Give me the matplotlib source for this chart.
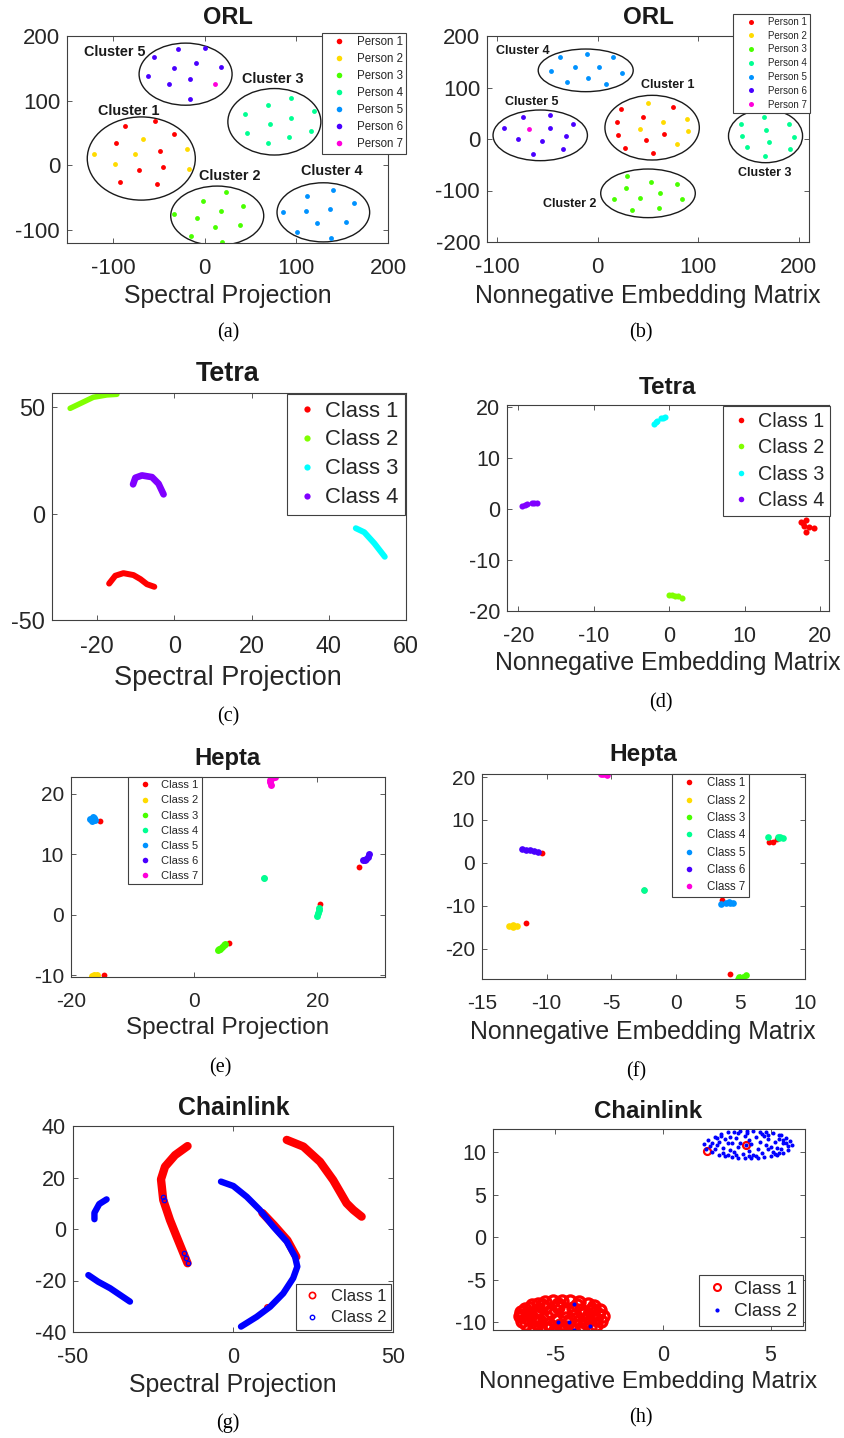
import matplotlib.pyplot as plt
from matplotlib.patches import Ellipse
from matplotlib.lines import Line2D

plt.rcParams['font.family'] = ['Liberation Sans', 'DejaVu Sans']
plt.rcParams['axes.unicode_minus'] = False

W, H = 845, 1438
fig = plt.figure(figsize=(W / 100, H / 100), dpi=100)

# colours (MATLAB hsv(7) and hsv(4))
hsv7 = ['#ff0000', '#ffdb00', '#49ff00', '#00ff92', '#0092ff', '#4900ff', '#ff00db']
hsv4 = ['#ff0000', '#80ff00', '#00ffff', '#8000ff']

# ---------------- (a) ORL, spectral projection ----------------
a_person1 = [(-87.0, 61.5), (-53.6, 68.7), (-33.0, 49.1), (-96.7, 34.6), (-48.6, 22.2),
             (-71.7, -6.7), (-45.3, -2.6), (-92.4, -26.4), (-52.2, -29.5)]
a_person2 = [(-66.7, 41.3), (-120.7, 17.5), (-75.7, 18.1), (-19.2, 24.8), (-97.8, 2.1), (-17.4, -5.1)]
a_person3 = [(23.2, -41.3), (-1.8, -54.8), (41.7, -62.5), (-33.0, -74.9), (18.1, -70.8),
             (-8.7, -80.6), (39.1, -92.5), (11.2, -95.1), (-14.9, -108.5), (19.2, -118.9)]
a_person4 = [(44.6, 79.1), (69.2, 93.0), (94.6, 103.9), (119.2, 84.2), (71.0, 63.6),
             (93.8, 74.0), (46.7, 50.1), (68.8, 35.2), (91.7, 43.9), (116.3, 53.2)]
a_person5 = [(111.2, -47.0), (139.5, -38.8), (163.4, -57.9), (85.9, -72.4), (110.9, -69.8),
             (137.3, -66.7), (122.5, -88.4), (154.7, -87.9), (100.8, -102.8), (137.7, -111.6)]
a_person6 = [(-55.1, 167.4), (-29.0, 180.3), (0.4, 181.9), (-62.0, 138.5), (-33.3, 150.4),
             (-9.1, 157.6), (18.1, 152.5), (-39.1, 125.6), (-15.6, 133.3), (-16.3, 102.8)]
a_person7 = [(10.9, 125.6)]
# cluster ellipses: centre x, centre y, half width, half height
a_ellipses = [(-69.0, 10.6, 58.9, 64.3), (13.8, -78.0, 50.7, 46.0), (76.1, 67.4, 50.7, 51.4),
              (129.5, -72.6, 50.5, 45.7), (-20.7, 141.0, 50.7, 48.0)]
a_cluster_text = [('Cluster 1', -82.3, 84.8), ('Cluster 2', 27.2, -16.5), ('Cluster 3', 74.3, 133.3),
                  ('Cluster 4', 138.8, -8.3), ('Cluster 5', -97.8, 175.0)]

# ---------------- (b) ORL, nonnegative embedding ----------------
b_person1 = [(23.4, 58.9), (74.6, 61.5), (44.6, 42.7), (18.8, 32.4), (20.5, 7.1),
             (65.8, 10.4), (47.8, -2.6), (26.7, -16.8), (55.2, -26.5)]
b_person2 = [(49.8, 69.3), (64.8, 33.0), (88.4, 38.8), (42.3, 19.4), (89.4, 15.5), (79.2, -10.4)]
b_person3 = [(28.7, -71.8), (52.8, -82.9), (78.5, -87.4), (28.1, -95.8), (62.1, -105.5),
             (16.2, -115.9), (41.9, -114.0), (84.2, -116.5), (34.3, -137.9), (61.4, -134.0)]
b_person4 = [(142.3, 29.8), (165.7, 42.1), (189.8, 29.8), (143.3, 5.8), (167.0, 17.5),
             (195.0, 4.5), (147.9, -16.2), (170.6, -5.8), (191.4, -20.1), (166.3, -33.0)]
b_person5 = [(-37.3, 159.2), (-10.6, 164.4), (15.2, 159.2), (-46.2, 131.4), (-22.1, 139.8),
             (1.3, 139.8), (24.1, 128.2), (-30.4, 110.0), (-9.9, 119.1), (8.3, 106.8)]
b_person6 = [(-73.9, 42.1), (-47.8, 47.2), (-93.4, 22.0), (-47.8, 22.0), (-24.4, 28.5),
             (-79.5, 0.0), (-55.1, -3.2), (-31.7, 5.8), (-64.4, -28.5), (-34.3, -19.4)]
b_person7 = [(-68.3, 19.4)]
b_ellipses = [(54.1, 22.0, 46.9, 62.8), (50.0, -105.5, 47.0, 47.2), (166.8, 5.8, 36.8, 51.8),
              (-11.9, 133.3, 47.2, 41.4), (-57.1, 7.1, 46.9, 49.2)]
b_cluster_text = [('Cluster 1', 69.6, 104.2), ('Cluster 2', -27.4, -126.2), ('Cluster 3', 166.3, -65.4),
                  ('Cluster 4', -74.6, 171.5), ('Cluster 5', -65.7, 71.3)]

# ---------------- (c) Tetra, spectral projection (curves) ----------------
c_class1 = [(-16.9, -32.9), (-15.3, -29.2), (-13.2, -28.0), (-10.6, -28.9), (-8.8, -30.8),
            (-7.1, -33.2), (-5.2, -34.4)]
c_class2 = [(-27.0, 49.4), (-24.0, 52.0), (-21.0, 54.6), (-17.5, 55.7), (-14.9, 56.0)]
c_class3 = [(47.0, -6.9), (49.2, -8.8), (51.8, -14.0), (54.5, -20.3)]
c_class4 = [(-10.7, 13.7), (-10.1, 16.8), (-8.4, 17.9), (-5.8, 17.1), (-4.1, 14.0), (-2.8, 9.0)]

# ---------------- (d) Tetra, nonnegative embedding ----------------
d_class1 = [(17.5, -2.5), (18.1, -2.2), (17.9, -3.3), (18.5, -3.6), (18.2, -4.5), (19.2, -3.8), (17.8, -2.85)]
d_class2 = [(0.04, -16.8), (0.4, -16.9), (0.8, -17.1), (1.2, -17.0), (1.7, -17.4)]
d_class3 = [(-1.95, 16.6), (-1.7, 17.0), (-1.55, 17.2), (-1.1, 17.7), (-0.8, 17.8), (-0.5, 17.9)]
d_class4 = [(-19.5, 0.45), (-19.1, 0.8), (-18.8, 0.9), (-18.2, 1.2), (-17.9, 1.1), (-17.5, 1.1)]

# ---------------- (e) Hepta, spectral projection ----------------
e_class1 = [(-15.3, 15.5), (-14.6, -10.0), (5.7, -4.7), (20.5, 1.7), (26.8, 7.9), (11.4, 6.1)]
e_class2 = [(-16.6, -10.2), (-16.2, -9.9), (-15.9, -10.3), (-16.3, -10.4), (-15.8, -10.0)]
e_class3 = [(3.9, -5.9), (4.1, -5.7), (4.2, -5.6), (4.5, -5.3), (4.8, -5.0), (5.0, -4.8)]
e_class4 = [(20.0, -0.2), (20.1, 0.3), (20.2, 0.8), (20.3, 1.2), (11.4, 6.1)]
e_class5 = [(-16.9, 15.9), (-16.5, 16.1), (-16.1, 15.7), (-16.6, 15.6), (-16.2, 16.0)]
e_class6 = [(27.5, 9.0), (27.7, 9.1), (27.9, 9.3), (28.2, 9.6), (28.4, 10.0)]
e_class7 = [(13.1, 22.8), (12.7, 22.7), (12.4, 22.3), (12.3, 21.9), (12.5, 21.4)]

# ---------------- (f) Hepta, nonnegative embedding ----------------
f_class1 = [(-10.35, 2.4), (-11.6, -13.9), (3.54, -8.7), (4.2, -25.8), (7.25, 4.8),
            (7.5, 4.9), (7.8, 5.5), (-2.5, -6.3)]
f_class2 = [(-12.9, -14.6), (-12.6, -14.4), (-12.3, -14.7), (-12.6, -14.9)]
f_class3 = [(4.8, -27.0), (5.0, -26.9), (5.2, -26.5), (5.4, -26.0), (4.9, -26.6)]
f_class4 = [(7.15, 6.1), (7.9, 6.0), (8.1, 6.1), (8.3, 5.9), (8.0, 5.8), (-2.5, -6.3)]
f_class5 = [(3.48, -9.5), (3.9, -9.2), (4.1, -9.1), (4.4, -9.3), (4.2, -9.3)]
f_class6 = [(-11.9, 3.3), (-11.6, 3.1), (-11.3, 2.9), (-11.0, 2.7), (-10.7, 2.55)]
f_class7 = [(-5.8, 20.6), (-5.6, 20.6), (-5.4, 20.6), (-5.3, 20.5)]

# ---------------- (g) Chainlink, spectral projection (arcs) ----------------
g_class1_arcs = [
    [(-14.2, 32.2), (-18.1, 28.7), (-21.25, 24.2), (-22.5, 19.3), (-21.8, 11.3), (-19.7, 3.5),
     (-17.6, -3.0), (-15.5, -9.4), (-14.2, -13.3)],
    [(16.8, 34.6), (22.0, 32.0), (27.2, 26.1), (31.3, 19.0), (35.5, 10.0), (37.6, 7.4), (40.2, 4.8)],
    [(9.2, 6.2), (12.8, 1.5), (17.0, -4.4), (19.8, -10.8)],
    [(10.5, -30.2)],
]
g_class2_arcs = [
    [(-3.75, 18.4), (0.1, 16.7), (4.3, 12.5), (8.4, 7.4), (12.6, 0.9), (16.8, -4.9), (19.4, -10.8),
     (20.1, -14.6), (18.8, -19.1), (15.7, -25.0), (11.6, -30.2), (7.4, -34.1), (2.5, -37.9)],
    [(-39.5, 11.5), (-41.8, 9.7), (-43.3, 6.3), (-43.3, 3.8)],
    [(-45.2, -17.9), (-42.1, -20.5), (-38.4, -23.0), (-35.3, -25.6), (-32.2, -28.2)],
]
g_class2_stray = [(-21.8, 12.5), (-21.6, 11.3), (-15.3, -9.4), (-14.7, -11.3), (-14.2, -13.1)]

# ---------------- (h) Chainlink, nonnegative embedding (clouds) ----------------
h_class1 = [(-6.65, -9.3), (-6.6, -8.8), (-6.55, -9.8), (-6.4, -8.4), (-6.35, -10.2), (-6.1, -8.0),
            (-6.0, -10.5), (-5.8, -7.8), (-5.7, -10.7), (-5.5, -7.6), (-5.4, -10.8), (-5.1, -7.5),
            (-5.0, -10.9), (-4.7, -7.45), (-4.6, -10.9), (-4.3, -7.5), (-4.2, -10.85), (-3.9, -7.6),
            (-3.8, -10.75), (-3.5, -7.8), (-3.4, -10.6), (-3.2, -8.1), (-3.1, -10.3), (-2.95, -8.5),
            (-2.9, -9.9), (-2.8, -9.2), (-6.2, -9.0), (-6.0, -9.6), (-5.8, -8.6), (-5.7, -9.9),
            (-5.5, -8.3), (-5.4, -9.4), (-5.3, -10.2), (-5.2, -8.8), (-5.0, -9.7), (-4.9, -8.2),
            (-4.8, -10.3), (-4.6, -8.7), (-4.5, -9.5), (-4.4, -10.1), (-4.2, -8.3), (-4.1, -9.1),
            (-3.9, -9.8), (-3.8, -8.6), (-3.6, -10.1), (-3.5, -9.3), (-3.4, -8.7), (-3.2, -9.6),
            (-6.3, -9.5), (-5.9, -9.2), (-4.3, -9.7), (-3.7, -9.0), (-6.5, -9.1), (-6.2, -8.3),
            (-5.9, -10.1), (-5.6, -8.0), (-5.2, -10.5), (-4.9, -7.8), (-4.5, -10.5), (-4.0, -8.0),
            (-3.7, -10.4), (-3.3, -8.4), (-3.0, -9.0), (-3.1, -9.6)]
h_class1_stray = [(3.85, 10.8), (2.06, 10.15)]
h_class2 = [(1.9, 10.9), (2.0, 10.4), (2.1, 11.4), (2.3, 10.0), (2.4, 11.8), (2.6, 9.7), (2.7, 12.1),
            (2.9, 9.5), (3.0, 12.3), (3.2, 9.4), (3.3, 12.4), (3.5, 9.3), (3.6, 12.5), (3.8, 9.3),
            (3.9, 12.5), (4.1, 9.3), (4.2, 12.5), (4.4, 9.35), (4.5, 12.4), (4.7, 9.4), (4.8, 12.3),
            (5.0, 9.5), (5.1, 12.2), (5.3, 9.7), (5.4, 12.0), (5.6, 9.9), (5.7, 11.7), (5.8, 10.2),
            (5.9, 11.3), (6.0, 10.8), (2.5, 10.8), (2.6, 11.2), (2.8, 10.5), (2.9, 11.5), (3.1, 10.2),
            (3.1, 11.8), (3.3, 10.0), (3.4, 11.6), (3.5, 10.6), (3.6, 11.1), (3.7, 9.8), (3.8, 11.9),
            (4.0, 10.1), (4.0, 11.4), (4.2, 9.7), (4.3, 11.8), (4.4, 10.4), (4.5, 11.2), (4.6, 9.9),
            (4.7, 11.9), (4.9, 10.3), (4.9, 11.5), (5.1, 10.0), (5.2, 11.2), (5.3, 10.5), (5.4, 11.5),
            (5.5, 10.3), (5.6, 11.0), (3.2, 11.0), (4.8, 10.8), (2.3, 11.0), (5.8, 10.7), (2.2, 10.7),
            (2.5, 11.6), (3.0, 9.7), (3.5, 12.2), (4.0, 9.5), (4.6, 12.1), (5.2, 9.8), (5.6, 11.4),
            (2.8, 9.9), (5.5, 12.0), (3.85, 10.8), (2.4, 10.3), (2.7, 11.9), (3.4, 9.6), (3.9, 12.2),
            (4.3, 9.5), (4.9, 12.0), (5.4, 9.9), (5.7, 11.1), (3.0, 11.1), (4.1, 10.9), (5.0, 10.6),
            (-4.14, -7.9), (-4.87, -10.0), (-4.37, -10.0), (-3.4, -10.4), (-4.14, -10.9)]

person_labels = ['Person %d' % i for i in range(1, 8)]
class7_labels = ['Class %d' % i for i in range(1, 8)]
class4_labels = ['Class %d' % i for i in range(1, 5)]
class2_labels = ['Class 1', 'Class 2']

GRID = '#404040'
TXT = '#262626'


def box(l, t, r, b):
    return [l / W, 1 - b / H, (r - l) / W, (b - t) / H]


def ftext(x, y, s, **kw):
    fig.text(x / W, 1 - y / H, s, ha='center', va='center', **kw)


def style(ax, xlim, ylim, xt, yt, fs):
    ax.set_xlim(xlim)
    ax.set_ylim(ylim)
    ax.set_xticks(xt)
    ax.set_yticks(yt)
    ax.tick_params(direction='in', top=True, right=True, length=3.5, width=0.6,
                   colors=GRID, labelcolor=TXT, labelsize=fs)
    ax.tick_params(axis='x', pad=11)
    ax.tick_params(axis='y', pad=5)
    for s in ax.spines.values():
        s.set_color(GRID)
        s.set_linewidth(0.8)


def dots(ax, pts, color, ms=3.6):
    xs, ys = zip(*pts)
    ax.plot(xs, ys, 'o', color=color, ms=ms, mew=0, ls='none')


def band(ax, pts, color, lw):
    xs, ys = zip(*pts)
    ax.plot(xs, ys, '-', color=color, lw=lw, solid_capstyle='round', solid_joinstyle='round')


def legend(ax, handles, labels, left, top, fs, mk_em, tx_em, pitch_em):
    bp = 0.3
    hl = 2 * (mk_em - bp)
    htp = tx_em - bp - hl
    leg = ax.legend(handles, labels, loc='upper left', bbox_to_anchor=(left / W, 1 - top / H),
                    bbox_transform=fig.transFigure, fontsize=fs, borderpad=bp, handlelength=hl,
                    handletextpad=htp, labelspacing=pitch_em - 0.93, borderaxespad=0,
                    fancybox=False, framealpha=1, edgecolor=GRID)
    leg.get_frame().set_linewidth(0.8)
    for t in leg.get_texts():
        t.set_color(TXT)


def proxies(colors, ms):
    return [Line2D([], [], ls='none', marker='o', color=c, ms=ms, mew=0) for c in colors]


def cluster_plot(ax, persons, ellipses, texts, tfs):
    for pts, c in zip(persons, hsv7):
        dots(ax, pts, c, 3.5)
    for cx, cy, hw, hh in ellipses:
        ax.add_patch(Ellipse((cx, cy), 2 * hw, 2 * hh, fill=False, ec='#1a1a1a', lw=1.0))
    for s, x, y in texts:
        ax.text(x, y, s, ha='center', va='center', fontsize=tfs, fontweight='bold', color='#1a1a1a')


# ---- (a)
ax = fig.add_axes(box(67, 36, 388, 243))
cluster_plot(ax, [a_person1, a_person2, a_person3, a_person4, a_person5, a_person6, a_person7],
             a_ellipses, a_cluster_text, 10.4)
style(ax, (-150, 200), (-120, 200), [-100, 0, 100, 200], [-100, 0, 100, 200], 16)
legend(ax, proxies(hsv7, 4), person_labels, 322, 33, 8.3, 1.5, 3.0, 1.36)
ftext(228, 18, 'ORL', fontsize=17, fontweight='bold', color='#1a1a1a')
ftext(228, 296, 'Spectral Projection', fontsize=17.9, color=TXT)
ftext(228, 333, '(a)', fontsize=14.5, family='Liberation Serif', color='black')

# ---- (b)
ax = fig.add_axes(box(487, 36, 809, 242))
cluster_plot(ax, [b_person1, b_person2, b_person3, b_person4, b_person5, b_person6, b_person7],
             b_ellipses, b_cluster_text, 9)
style(ax, (-110, 210), (-200, 200), [-100, 0, 100, 200], [-200, -100, 0, 100, 200], 16)
legend(ax, proxies(hsv7, 3.6), person_labels, 733, 14, 7, 1.86, 3.6, 1.32)
ftext(648, 18, 'ORL', fontsize=17.4, fontweight='bold', color='#1a1a1a')
ftext(648, 296, 'Nonnegative Embedding Matrix', fontsize=17.9, color=TXT)
ftext(641, 333, '(b)', fontsize=14.5, family='Liberation Serif', color='black')

# ---- (c)
ax = fig.add_axes(box(52, 393, 406, 620))
band(ax, c_class1, hsv4[0], 4.3)
band(ax, c_class2, hsv4[1], 4.0)
band(ax, c_class3, hsv4[2], 4.3)
band(ax, c_class4, hsv4[3], 4.8)
style(ax, (-31.7, 60), (-50, 56.6), [-20, 0, 20, 40, 60], [-50, 0, 50], 16.8)
legend(ax, proxies(hsv4, 4.5), class4_labels, 287, 394, 15.8, 0.9, 1.73, 1.29)
ftext(228, 374, 'Tetra', fontsize=19.4, fontweight='bold', color='#1a1a1a')
ftext(228, 678, 'Spectral Projection', fontsize=19.5, color=TXT)
ftext(228, 717, '(c)', fontsize=14.5, family='Liberation Serif', color='black')

# ---- (d)
ax = fig.add_axes(box(507, 405, 829, 611))
for pts, c in zip([d_class1, d_class2, d_class3, d_class4], hsv4):
    dots(ax, pts, c, 4.4)
style(ax, (-21.5, 21.2), (-20, 20.3), [-20, -10, 0, 10, 20], [-20, -10, 0, 10, 20], 15.5)
legend(ax, proxies(hsv4, 4), class4_labels, 723, 406, 14.25, 0.91, 1.77, 1.3)
ftext(668, 387, 'Tetra', fontsize=17.5, fontweight='bold', color='#1a1a1a')
ftext(668, 663, 'Nonnegative Embedding Matrix', fontsize=17.9, color=TXT)
ftext(661, 703, '(d)', fontsize=14.5, family='Liberation Serif', color='black')

# ---- (e)
ax = fig.add_axes(box(71, 777, 385, 977))
dots(ax, e_class1, hsv7[0], 4.2)
for pts, c in zip([e_class2, e_class3, e_class4, e_class5, e_class6, e_class7], hsv7[1:]):
    dots(ax, pts, c, 5.0)
dots(ax, [e_class4[-1]], hsv7[3], 3.2)
style(ax, (-20, 31), (-10.3, 22.8), [-20, 0, 20], [-10, 0, 10, 20], 15)
legend(ax, proxies(hsv7, 4), class7_labels, 128, 777, 8, 1.5, 3.0, 1.39)
ftext(228, 758, 'Hepta', fontsize=17.2, fontweight='bold', color='#1a1a1a')
ftext(228, 1028, 'Spectral Projection', fontsize=17.5, color=TXT)
ftext(220, 1068, '(e)', fontsize=14.5, family='Liberation Serif', color='black')

# ---- (f)
ax = fig.add_axes(box(482, 774, 805, 979))
dots(ax, f_class1, hsv7[0], 4.2)
for pts, c in zip([f_class2, f_class3, f_class4, f_class5, f_class6, f_class7], hsv7[1:]):
    dots(ax, pts, c, 4.8)
dots(ax, [f_class4[-1]], hsv7[3], 3.2)
style(ax, (-15, 10), (-27, 20.7), [-15, -10, -5, 0, 5, 10], [-20, -10, 0, 10, 20], 15)
legend(ax, proxies(hsv7, 4), class7_labels, 672, 774, 8.3, 1.48, 3.04, 1.39)
ftext(643, 755, 'Hepta', fontsize=17.6, fontweight='bold', color='#1a1a1a')
ftext(643, 1032, 'Nonnegative Embedding Matrix', fontsize=17.9, color=TXT)
ftext(636, 1072, '(f)', fontsize=14.5, family='Liberation Serif', color='black')

# ---- (g)
ax = fig.add_axes(box(73, 1126, 393, 1332))
for arc in g_class1_arcs[:3]:
    band(ax, arc, 'red', 6.0)
xs, ys = zip(*g_class1_arcs[3])
ax.plot(xs, ys, 'o', mfc='none', mec='red', ms=4, mew=1.0, ls='none')
for arc in g_class2_arcs:
    band(ax, arc, 'blue', 4.6)
xs, ys = zip(*g_class2_stray)
ax.plot(xs, ys, 'o', mfc='none', mec='blue', ms=3.2, mew=0.9, ls='none')
style(ax, (-50, 50), (-40, 40), [-50, 0, 50], [-40, -20, 0, 20, 40], 15.5)
g_handles = [Line2D([], [], ls='none', marker='o', mfc='none', mec='red', ms=4.5, mew=1.2),
             Line2D([], [], ls='none', marker='o', mfc='none', mec='blue', ms=3.2, mew=1.0)]
legend(ax, g_handles, class2_labels, 296, 1284, 12, 0.95, 2.08, 1.31)
ftext(234, 1108, 'Chainlink', fontsize=17.9, fontweight='bold', color='#1a1a1a')
ftext(233, 1385, 'Spectral Projection', fontsize=17.9, color=TXT)
ftext(228, 1423, '(g)', fontsize=14.5, family='Liberation Serif', color='black')

# ---- (h)
ax = fig.add_axes(box(493, 1129, 805, 1330))
xs, ys = zip(*h_class1)
ax.plot(xs, ys, 'o', mfc='none', mec='red', ms=8, mew=2.4, ls='none')
xs, ys = zip(*h_class1_stray)
ax.plot(xs, ys, 'o', mfc='none', mec='red', ms=5, mew=1.6, ls='none')
xs, ys = zip(*h_class2)
ax.plot(xs, ys, '.', color='blue', ms=3.8, ls='none')
style(ax, (-7.9, 6.6), (-10.9, 12.7), [-5, 0, 5], [-10, -5, 0, 5, 10], 15.5)
h_handles = [Line2D([], [], ls='none', marker='o', mfc='none', mec='red', ms=5, mew=1.5),
             Line2D([], [], ls='none', marker='.', color='blue', ms=4)]
legend(ax, h_handles, class2_labels, 699, 1275, 13.7, 0.95, 1.84, 1.19)
ftext(648, 1112, 'Chainlink', fontsize=17.4, fontweight='bold', color='#1a1a1a')
ftext(648, 1382, 'Nonnegative Embedding Matrix', fontsize=17.5, color=TXT)
ftext(641, 1418, '(h)', fontsize=14.5, family='Liberation Serif', color='black')

fig.savefig('out.png', dpi=100)
